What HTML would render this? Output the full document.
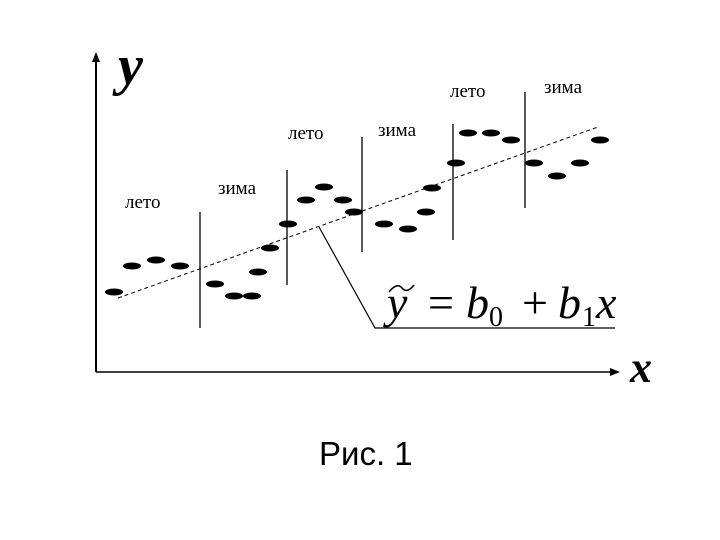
<!DOCTYPE html>
<html><head><meta charset="utf-8"><style>body{margin:0;background:#fff}svg{display:block}</style></head><body>
<svg width="720" height="540" xmlns="http://www.w3.org/2000/svg" font-family="Liberation Serif, serif">
<rect width="720" height="540" fill="#fff"/>
<line x1="96" y1="372" x2="96" y2="60" stroke="#000" stroke-width="2"/>
<polygon points="92,62 96,52 100,62" fill="#000"/>
<line x1="96" y1="372" x2="612" y2="372" stroke="#000" stroke-width="1.5"/>
<polygon points="610,368 620,372 610,376" fill="#000"/>
<text x="118" y="84" font-size="56" font-style="italic" font-weight="bold">y</text>
<text x="630" y="382" font-size="44" font-style="italic" font-weight="bold">x</text>
<line x1="118" y1="298" x2="598" y2="127" stroke="#000" stroke-width="1" stroke-dasharray="4,3"/>
<g stroke="#000" stroke-width="1.3">
<line x1="200" y1="212" x2="200" y2="328"/>
<line x1="287" y1="170" x2="287" y2="285"/>
<line x1="362" y1="137" x2="362" y2="252"/>
<line x1="453" y1="124" x2="453" y2="240"/>
<line x1="525" y1="92" x2="525" y2="208"/>
</g>
<polyline points="319,227 375,328 615,328" fill="none" stroke="#000" stroke-width="1.2"/>
<g fill="#000">
<ellipse cx="114" cy="292" rx="9" ry="3.5"/><ellipse cx="132" cy="266" rx="9" ry="3.5"/>
<ellipse cx="156" cy="260" rx="9" ry="3.5"/><ellipse cx="180" cy="266" rx="9" ry="3.5"/>
<ellipse cx="215" cy="284" rx="9" ry="3.5"/><ellipse cx="234" cy="296" rx="9" ry="3.5"/>
<ellipse cx="252" cy="296" rx="9" ry="3.5"/><ellipse cx="258" cy="272" rx="9" ry="3.5"/>
<ellipse cx="270" cy="248" rx="9" ry="3.5"/><ellipse cx="288" cy="224" rx="9" ry="3.5"/>
<ellipse cx="306" cy="200" rx="9" ry="3.5"/><ellipse cx="324" cy="187" rx="9" ry="3.5"/>
<ellipse cx="343" cy="200" rx="9" ry="3.5"/><ellipse cx="354" cy="212" rx="9" ry="3.5"/>
<ellipse cx="384" cy="224" rx="9" ry="3.5"/><ellipse cx="408" cy="229" rx="9" ry="3.5"/>
<ellipse cx="426" cy="212" rx="9" ry="3.5"/><ellipse cx="432" cy="188" rx="9" ry="3.5"/>
<ellipse cx="456" cy="163" rx="9" ry="3.5"/><ellipse cx="468" cy="133" rx="9" ry="3.5"/>
<ellipse cx="491" cy="133" rx="9" ry="3.5"/><ellipse cx="511" cy="140" rx="9" ry="3.5"/>
<ellipse cx="534" cy="163" rx="9" ry="3.5"/><ellipse cx="557" cy="176" rx="9" ry="3.5"/>
<ellipse cx="580" cy="163" rx="9" ry="3.5"/><ellipse cx="600" cy="140" rx="9" ry="3.5"/>
</g>
<g font-size="19">
<text x="125" y="208">лето</text>
<text x="218" y="194">зима</text>
<text x="288" y="139">лето</text>
<text x="378" y="136">зима</text>
<text x="450" y="97">лето</text>
<text x="544" y="93">зима</text>
</g>
<text x="387" y="318" font-size="46" font-style="italic">y</text>
<path d="M389,292 Q397,282 402,288 T414,285" fill="none" stroke="#000" stroke-width="1.6"/>
<text x="428" y="318" font-size="46">=</text>
<text x="466" y="318" font-size="46" font-style="italic">b</text>
<text x="489" y="326" font-size="28">0</text>
<text x="522" y="318" font-size="46">+</text>
<text x="558" y="318" font-size="46" font-style="italic">b</text>
<text x="582" y="326" font-size="28">1</text>
<text x="596" y="318" font-size="46" font-style="italic">x</text>
<text x="319" y="465" font-size="33" font-family="Liberation Sans, sans-serif">Рис. 1</text>
</svg>
</body></html>
